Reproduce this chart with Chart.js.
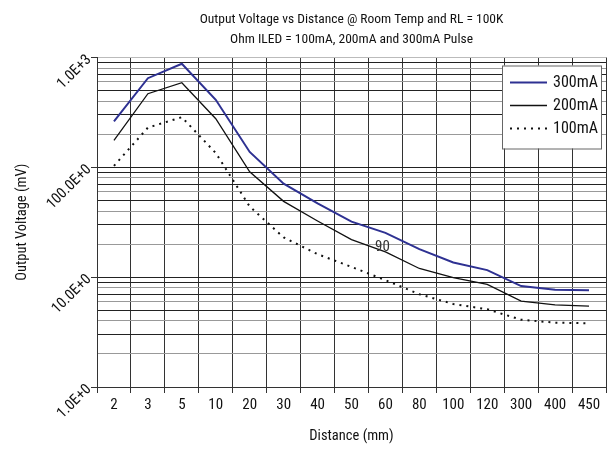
<!DOCTYPE html>
<html>
<head>
<meta charset="utf-8">
<script src="https://cdn.jsdelivr.net/npm/chart.js@4.4.0/dist/chart.umd.min.js"></script>
<style>
  html, body { margin: 0; padding: 0; background: #fff; }
  #wrap { width: 613px; height: 449px; }
</style>
</head>
<body>
<div id="wrap"><canvas id="chart"></canvas></div>
<script>
// Distance categories (mm)
const distances = ['2', '3', '5', '10', '20', '30', '40', '50', '60', '80', '100', '120', '300', '400', '450'];

// Output voltage (mV)
const v300 = [262, 648, 877, 412, 138, 71, 47, 32, 25.3, 18, 13.6, 11.6, 8.3, 7.7, 7.6];
const v200 = [176, 468, 589, 277, 91, 49, 32.5, 22, 17, 12, 9.9, 8.6, 6.05, 5.6, 5.45];
const v100 = [103, 230, 286, 135, 44, 23, 16.2, 12.4, 9.4, 7, 5.7, 5.1, 4.1, 3.85, 3.8];

const yMajor = [1, 10, 100, 1000];
const yMajorLabels = ['1.0E+0', '10.0E+0', '100.0E+0', '1.0E+3'];

// stray label in the original picture
const noteText = '90';
const noteAt = { x: '60', y: 18.6 };

const FONT = '"Roboto Condensed", "DejaVu Sans Condensed", sans-serif';
const TEXT = '#111';

const legendBox = {
    id: 'legendBox',
    afterDraw(chart) {
        const ctx = chart.ctx;
        const ca = chart.chartArea;
        const x0 = ca.right - 104, y0 = ca.top + 8, w = 99, h = 83;
        ctx.save();
        ctx.fillStyle = '#fff';
        ctx.fillRect(x0, y0, w, h);
        ctx.strokeStyle = '#666';
        ctx.lineWidth = 1;
        ctx.strokeRect(x0 + 0.5, y0 + 0.5, w, h);
        ctx.beginPath();
        ctx.rect(x0, y0, w, h);
        ctx.clip();
        chart.data.datasets.forEach((ds, i) => {
            const y = y0 + 17 + i * 23;
            ctx.strokeStyle = ds.borderColor;
            ctx.lineWidth = ds.borderWidth;
            ctx.setLineDash(ds.borderDash || []);
            ctx.beginPath();
            ctx.moveTo(x0 + 8, y);
            ctx.lineTo(x0 + 45, y);
            ctx.stroke();
            ctx.setLineDash([]);
            ctx.fillStyle = TEXT;
            ctx.font = '16px ' + FONT;
            ctx.textBaseline = 'middle';
            ctx.fillText(ds.label, x0 + 51, y);
        });
        ctx.restore();

        // the "90" text sitting on the plot
        const xs = chart.scales.x, ys = chart.scales.y;
        ctx.save();
        ctx.font = '15px ' + FONT;
        ctx.fillStyle = '#333';
        ctx.textAlign = 'center';
        ctx.textBaseline = 'middle';
        ctx.fillText(noteText, xs.getPixelForValue(distances.indexOf(noteAt.x)) - 3, ys.getPixelForValue(noteAt.y));
        ctx.restore();
    }
};

new Chart(document.getElementById('chart'), {
    type: 'line',
    data: {
        labels: distances,
        datasets: [
            { label: '300mA', data: v300, borderColor: '#2e3192', borderWidth: 2, pointRadius: 0, tension: 0 },
            { label: '200mA', data: v200, borderColor: '#111', borderWidth: 1.3, pointRadius: 0, tension: 0 },
            { label: '100mA', data: v100, borderColor: '#111', borderWidth: 2, borderDash: [2, 5], pointRadius: 0, tension: 0 }
        ]
    },
    options: {
        responsive: true,
        maintainAspectRatio: false,
        animation: false,
        layout: { padding: { top: 0, right: 7, left: 0, bottom: 0 } },
        plugins: {
            legend: { display: false },
            tooltip: { enabled: false },
            title: {
                display: true,
                fullSize: false,
                text: ['Output Voltage vs Distance @ Room Temp and RL = 100K', 'Ohm ILED = 100mA, 200mA and 300mA Pulse'],
                color: TEXT,
                font: { family: FONT, size: 13.5, weight: 'normal', lineHeight: 1.5 },
                padding: { top: 9, bottom: 8 }
            }
        },
        scales: {
            x: {
                offset: true,
                grid: { offset: true, color: '#333', lineWidth: 1, tickLength: 6, tickColor: '#333', drawOnChartArea: true },
                border: { color: '#333' },
                ticks: { color: TEXT, font: { family: FONT, size: 15 }, padding: 3, maxRotation: 0, autoSkip: false },
                title: { display: true, text: 'Distance (mm)', color: TEXT, font: { family: FONT, size: 14.5 }, padding: { top: 3 } },
                afterFit(scale) { scale.height = 62; }
            },
            y: {
                type: 'logarithmic',
                min: 1,
                max: 1000,
                afterBuildTicks(scale) {
                    const ticks = [];
                    for (let d = 1; d < 1000; d *= 10) {
                        for (let m = 1; m < 10; m++) ticks.push({ value: m * d });
                    }
                    ticks.push({ value: 1000 });
                    scale.ticks = ticks;
                },
                grid: {
                    color(ctx) {
                        const v = ctx.tick ? ctx.tick.value : 0;
                        if (v === 1000) return '#bbb';
                        const m = Math.round(v / Math.pow(10, Math.floor(Math.log10(v) + 1e-9)));
                        return (m % 2 === 0) ? '#999' : '#222';
                    },
                    lineWidth: 1,
                    tickLength: 6,
                    tickColor(ctx) {
                        return ctx.tick && yMajor.includes(ctx.tick.value) ? '#333' : 'rgba(0,0,0,0)';
                    }
                },
                border: { color: '#333' },
                ticks: {
                    color: TEXT,
                    font: { family: FONT, size: 15 },
                    padding: 2,
                    minRotation: 45,
                    maxRotation: 45,
                    autoSkip: false,
                    callback(value) {
                        const i = yMajor.indexOf(value);
                        return i >= 0 ? yMajorLabels[i] : '';
                    }
                },
                title: { display: true, text: 'Output Voltage (mV)', color: TEXT, font: { family: FONT, size: 14.5 }, padding: { top: 14, bottom: 0 } },
                afterFit(scale) { scale.width = 97; }
            }
        }
    },
    plugins: [legendBox]
});
</script>
</body>
</html>
